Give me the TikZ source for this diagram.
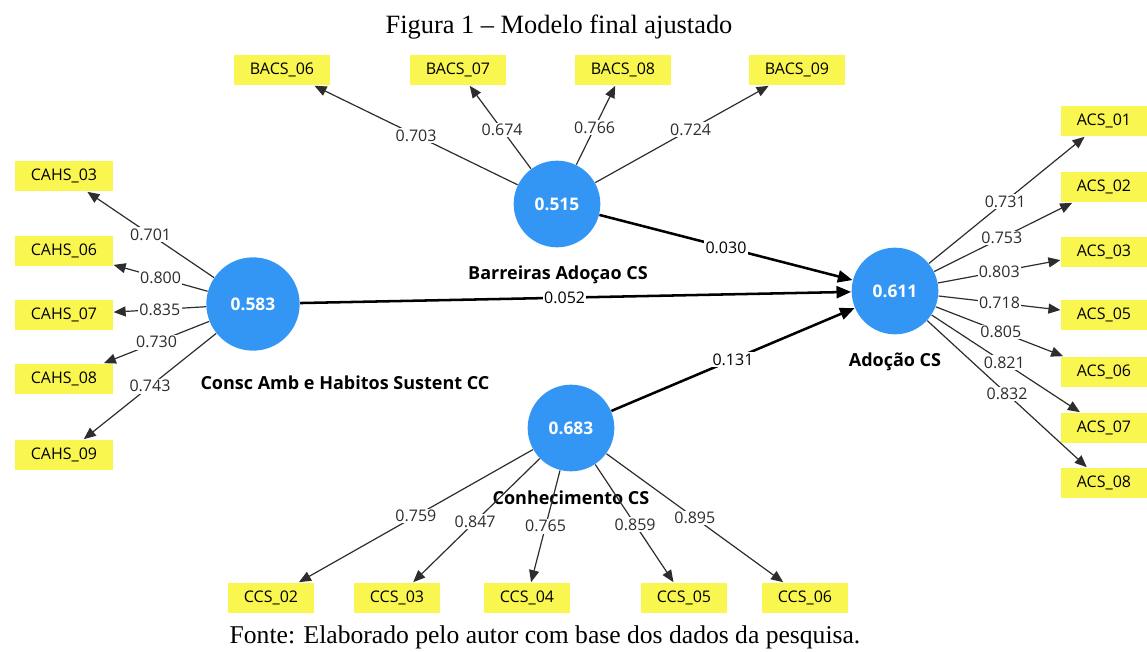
\documentclass[tikz,border=0pt]{standalone}
\usepackage{fontspec}
\setmainfont{Liberation Serif}
\newfontfamily\plsfont{Open Sans}
\usetikzlibrary{arrows.meta}

\definecolor{latentblue}{RGB}{51,150,245}
\definecolor{itemyellow}{RGB}{250,246,80}
\definecolor{pathgray}{RGB}{45,45,45}

\tikzset{every picture/.style={line width=0.75pt}}
\tikzset{
  latent/.style={circle, fill=latentblue, minimum size=65pt, inner sep=0pt, text=white, font=\plsfont\bfseries\fontsize{13}{15}\selectfont},
  item/.style={rectangle, fill=itemyellow, inner xsep=12pt, inner ysep=0pt, minimum height=23pt, font=\plsfont\fontsize{12}{14}\selectfont},
  latentname/.style={inner sep=0.75pt, font=\plsfont\bfseries\fontsize{13.5}{16}\selectfont},
  weight/.style={fill=white, inner sep=1pt, text=pathgray, font=\plsfont\fontsize{12}{14}\selectfont},
  loading/.style={draw=pathgray, line width=0.9pt, -{Triangle[length=9pt,width=7.5pt]}},
  structural/.style={draw=black, line width=1.9pt, -{Triangle[length=11pt,width=9pt]}},
}

\begin{document}
\begin{tikzpicture}[x=0.75pt,y=0.75pt,yscale=-1,xscale=1]
\useasboundingbox (0,0) rectangle (1147,652);

% Text Node
\node (title) at (559,27) [inner sep=0.75pt, font=\fontsize{19.8}{23}\selectfont] {Figura 1 -- Modelo final ajustado};
% Text Node
\node (source) at (545,637) [inner sep=0.75pt, font=\fontsize{19.2}{23}\selectfont] {Fonte: Elaborado pelo autor com base dos dados da pesquisa.};

%Shape: Circle [id:latent BAC]
\node (bac) at (557,204) [latent] {0.515};
%Shape: Circle [id:latent CAHS]
\node (cahs) at (253,304) [latent, minimum size=70pt] {0.583};
%Shape: Circle [id:latent ADO]
\node (ado) at (895,291) [latent] {0.611};
%Shape: Circle [id:latent CCS]
\node (ccs) at (571,428) [latent] {0.683};

% Text Node
\node (bacname) at (558,275) [latentname] {Barreiras Adoçao CS};
\node (cahsname) at (345,383) [latentname] {Consc Amb e Habitos Sustent CC};
\node (adoname) at (895,362) [latentname] {Adoção CS};
\node (ccsname) at (571,498) [latentname] {Conhecimento CS};

%Shape: Rectangle [indicators BAC]
\node (bacs06) at (282,70) [item] {BACS\_06};
\node (bacs07) at (458,70) [item] {BACS\_07};
\node (bacs08) at (623,70) [item] {BACS\_08};
\node (bacs09) at (797,70) [item] {BACS\_09};

%Shape: Rectangle [indicators CAHS]
\node (cahs03) at (64,176) [item] {CAHS\_03};
\node (cahs06) at (64,251) [item] {CAHS\_06};
\node (cahs07) at (64,315) [item] {CAHS\_07};
\node (cahs08) at (64,379) [item] {CAHS\_08};
\node (cahs09) at (64,455) [item] {CAHS\_09};

%Shape: Rectangle [indicators ADO]
\node (acs01) at (1104,121) [item] {ACS\_01};
\node (acs02) at (1104,187) [item] {ACS\_02};
\node (acs03) at (1104,252) [item] {ACS\_03};
\node (acs05) at (1104,315) [item] {ACS\_05};
\node (acs06) at (1104,372) [item] {ACS\_06};
\node (acs07) at (1104,428) [item] {ACS\_07};
\node (acs08) at (1104,483) [item] {ACS\_08};

%Shape: Rectangle [indicators CCS]
\node (ccs02) at (271,598) [item] {CCS\_02};
\node (ccs03) at (397,598) [item] {CCS\_03};
\node (ccs04) at (527,598) [item] {CCS\_04};
\node (ccs05) at (684,598) [item] {CCS\_05};
\node (ccs06) at (805,598) [item] {CCS\_06};

%Straight Lines [outer loadings BAC]
\draw [loading] (bac) -- (bacs06) node [weight, pos=0.5] (w0703) {0.703};
\draw [loading] (bac) -- (bacs07) node [weight, pos=0.47] (w0674) {0.674};
\draw [loading] (bac) -- (bacs08) node [weight, pos=0.47] (w0766) {0.766};
\draw [loading] (bac) -- (bacs09) node [weight, pos=0.55] (w0724) {0.724};

%Straight Lines [outer loadings CAHS]
\draw [loading] (cahs) -- (cahs03) node [weight, pos=0.5] (w0701) {0.701};
\draw [loading] (cahs) -- (cahs06) node [weight, pos=0.5] (w0800) {0.800};
\draw [loading] (cahs) -- (cahs07) node [weight, pos=0.5] (w0835) {0.835};
\draw [loading] (cahs) -- (cahs08) node [weight, pos=0.5] (w0730) {0.730};
\draw [loading] (cahs) -- (cahs09) node [weight, pos=0.5] (w0743) {0.743};

%Straight Lines [outer loadings ADO]
\draw [loading] (ado) -- (acs01) node [weight, pos=0.49] (w0731) {0.731};
\draw [loading] (ado) -- (acs02) node [weight, pos=0.49] (w0753) {0.753};
\draw [loading] (ado) -- (acs03) node [weight, pos=0.5] (w0803) {0.803};
\draw [loading] (ado) -- (acs05) node [weight, pos=0.5] (w0718) {0.718};
\draw [loading] (ado) -- (acs06) node [weight, pos=0.51] (w0805) {0.805};
\draw [loading] (ado) -- (acs07) node [weight, pos=0.49] (w0821) {0.821};
\draw [loading] (ado) -- (acs08) node [weight, pos=0.5] (w0832) {0.832};

%Straight Lines [outer loadings CCS]
\draw [loading] (ccs) -- (ccs02) node [weight, pos=0.5] (w0759) {0.759};
\draw [loading] (ccs) -- (ccs03) node [weight, pos=0.51] (w0847) {0.847};
\draw [loading] (ccs) -- (ccs04) node [weight, pos=0.5] (w0765) {0.765};
\draw [loading] (ccs) -- (ccs05) node [weight, pos=0.51] (w0859) {0.859};
\draw [loading] (ccs) -- (ccs06) node [weight, pos=0.5] (w0895) {0.895};

%Straight Lines [path coefficients]
\draw [structural] (bac) -- (ado) node [weight, text=black, pos=0.5] (p0030) {0.030};
\draw [structural] (cahs) -- (ado) node [weight, text=black, pos=0.48] (p0052) {0.052};
\draw [structural] (ccs) -- (ado) node [weight, text=black, pos=0.5] (p0131) {0.131};
\end{tikzpicture}
\end{document}
